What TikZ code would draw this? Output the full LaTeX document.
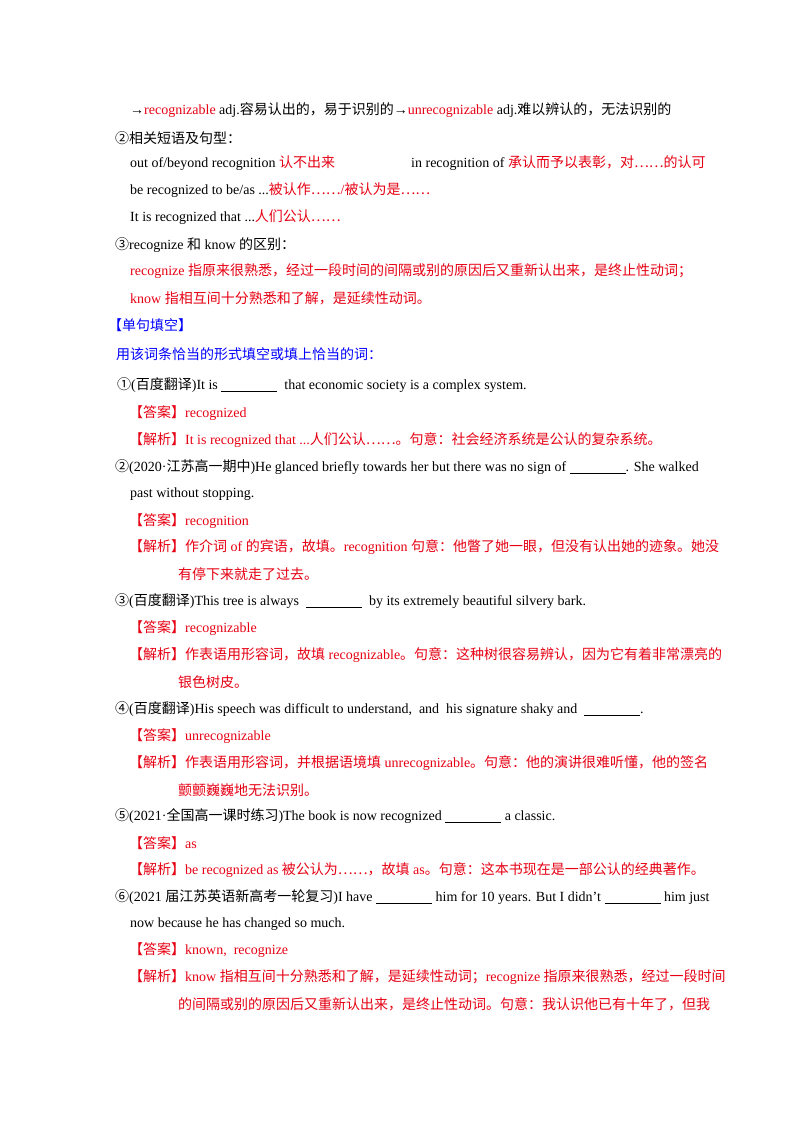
\documentclass[tikz,border=0pt]{standalone}
\usepackage{fontspec}
\setmainfont{Liberation Serif}
\newfontfamily\cjk{Noto Sans CJK SC}
\XeTeXinterchartokenstate=1
\newXeTeXintercharclass\cjkclass
\newcount\cc
\def\setrange#1#2{\cc=#1 \loop\XeTeXcharclass\cc=\cjkclass\ifnum\cc<#2 \advance\cc 1 \repeat}
\setrange{"4E00}{"9FFF}
\setrange{"3000}{"303F}
\setrange{"FF00}{"FFEF}
\setrange{"2460}{"2473}
\XeTeXcharclass"2026=\cjkclass
\XeTeXinterchartoks 0 \cjkclass={\begingroup\cjk}
\XeTeXinterchartoks 4095 \cjkclass={\begingroup\cjk}
\XeTeXinterchartoks \cjkclass 0={\endgroup}
\XeTeXinterchartoks \cjkclass 4095={\endgroup}
\definecolor{rd}{RGB}{230,0,18}
\newcommand{\R}[1]{\textcolor{rd}{#1}}
\begin{document}
\begin{tikzpicture}[x=1pt,y=-1pt,every node/.style={anchor=west,inner sep=0pt,font=\fontsize{14pt}{16pt}\selectfont}]
\useasboundingbox (0,0) rectangle (800,1132);
\node (l1) at (130,110) {→\R{recognizable} adj.容易认出的，易于识别的→\R{unrecognizable} adj.难以辨认的，无法识别的};
\node (l2) at (115,138) {②相关短语及句型：};
\node (l3) at (130,163) {out of/beyond recognition \R{认不出来}};
\node (l3b) at (411,163) {in recognition of \R{承认而予以表彰，对……的认可}};
\node (l4) at (130,190) {be recognized to be/as ...\R{被认作……/被认为是……}};
\node (l5) at (130,217) {It is recognized that ...\R{人们公认……}};
\node (l6) at (115,245) {③recognize 和 know 的区别：};
\node (l7) at (130,271) {\R{recognize 指原来很熟悉，经过一段时间的间隔或别的原因后又重新认出来，是终止性动词；}};
\node (l8) at (130,298) {\R{know 指相互间十分熟悉和了解，是延续性动词。}};
\node (l9) at (108,325) {\textcolor{blue}{【单句填空】}};
\node (l10) at (116,354) {\textcolor{blue}{用该词条恰当的形式填空或填上恰当的词：}};
\node (q1) at (117,385) {①(百度翻译)It is \underline{\hspace{56pt}}\ \ that economic society is a complex system.};
\node (a1) at (129,413) {\R{【答案】recognized}};
\node (e1) at (129,440) {\R{【解析】It is recognized that ...人们公认……。句意：社会经济系统是公认的复杂系统。}};
\node (q2) at (115,467) {②(2020·江苏高一期中)He glanced briefly towards her but there was no sign of \underline{\hspace{56pt}}. She walked};
\node (q2b) at (130,494) {past without stopping.};
\node (a2) at (129,521) {\R{【答案】recognition}};
\node (e2) at (129,547) {\R{【解析】作介词 of 的宾语，故填。recognition 句意：他瞥了她一眼，但没有认出她的迹象。她没}};
\node (e2b) at (178,574) {\R{有停下来就走了过去。}};
\node (q3) at (115,601) {③(百度翻译)This tree is always\ \ \underline{\hspace{56pt}}\ \ by its extremely beautiful silvery bark.};
\node (a3) at (129,628) {\R{【答案】recognizable}};
\node (e3) at (129,655) {\R{【解析】作表语用形容词，故填 recognizable。句意：这种树很容易辨认，因为它有着非常漂亮的}};
\node (e3b) at (178,682) {\R{银色树皮。}};
\node (q4) at (115,709) {④(百度翻译)His speech was difficult to understand,\ \ and\ \ his signature shaky and\ \ \underline{\hspace{56pt}}.};
\node (a4) at (129,736) {\R{【答案】unrecognizable}};
\node (e4) at (129,763) {\R{【解析】作表语用形容词，并根据语境填 unrecognizable。句意：他的演讲很难听懂，他的签名}};
\node (e4b) at (178,790) {\R{颤颤巍巍地无法识别。}};
\node (q5) at (115,816) {⑤(2021·全国高一课时练习)The book is now recognized \underline{\hspace{56pt}} a classic.};
\node (a5) at (129,843) {\R{【答案】as}};
\node (e5) at (129,870) {\R{【解析】be recognized as 被公认为……，故填 as。句意：这本书现在是一部公认的经典著作。}};
\node (q6) at (115,897) {⑥(2021 届江苏英语新高考一轮复习)I have \underline{\hspace{56pt}} him for 10 years. But I didn’t \underline{\hspace{56pt}} him just};
\node (q6b) at (130,924) {now because he has changed so much.};
\node (a6) at (129,950) {\R{【答案】known,\ \ recognize}};
\node (e6) at (129,977) {\R{【解析】know 指相互间十分熟悉和了解，是延续性动词；recognize 指原来很熟悉，经过一段时间}};
\node (e6b) at (178,1004) {\R{的间隔或别的原因后又重新认出来，是终止性动词。句意：我认识他已有十年了，但我}};
\end{tikzpicture}
\end{document}
